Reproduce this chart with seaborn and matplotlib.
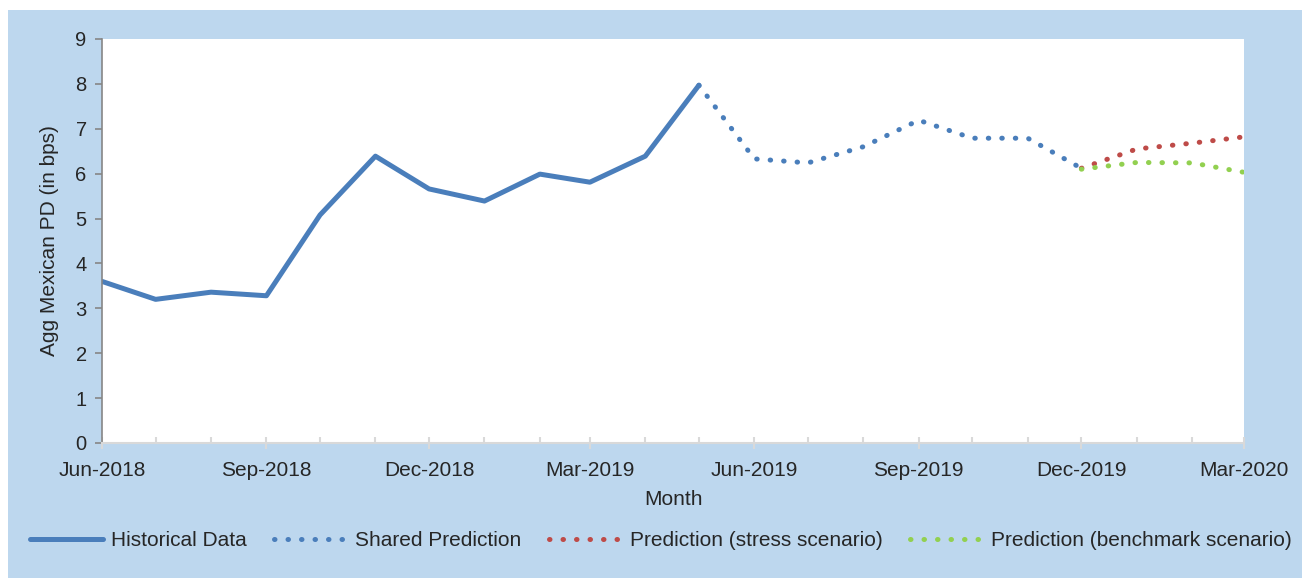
import pandas as pd
import matplotlib.pyplot as plt
import matplotlib.dates as mdates
from matplotlib.patches import Rectangle
import seaborn as sns

# monthly values (bps)
hist_months = pd.date_range("2018-06-01", "2019-05-01", freq="MS")
hist_pd = [3.6, 3.2, 3.36, 3.28, 5.08, 6.39, 5.66, 5.39, 5.99, 5.81, 6.39, 7.97]

shared_months = pd.date_range("2019-05-01", "2019-12-01", freq="MS")
shared_pd = [7.97, 6.33, 6.24, 6.6, 7.19, 6.79, 6.79, 6.12]

scen_months = pd.date_range("2019-12-01", "2020-03-01", freq="MS")
stress_pd = [6.12, 6.55, 6.68, 6.82]
bench_pd = [6.1, 6.25, 6.24, 6.03]

blue = "#4A7EBB"
red = "#BE4B48"
green = "#92D050"
bg = "#BDD7EE"

sns.set_style("white")
plt.rcParams["font.family"] = ["Liberation Sans", "DejaVu Sans"]

fig = plt.figure(figsize=(13.02, 5.78), dpi=100)
fig.patch.set_facecolor("white")
fig.patches.append(Rectangle((8 / 1302, 0), 1 - 8 / 1302, 1 - 10 / 578,
                             transform=fig.transFigure, facecolor=bg,
                             edgecolor="none", zorder=-10))

ax = fig.add_axes([102 / 1302, 1 - 443 / 578, (1244 - 102) / 1302, (443 - 39) / 578])
ax.set_facecolor("white")

dots = (0, (0.1, 2.6))
sns.lineplot(x=hist_months, y=hist_pd, ax=ax, color=blue, linewidth=3.6,
             label="Historical Data", solid_capstyle="round")
sns.lineplot(x=shared_months, y=shared_pd, ax=ax, color=blue, linewidth=3.6,
             linestyle=dots, dash_capstyle="round", label="Shared Prediction")
sns.lineplot(x=scen_months, y=stress_pd, ax=ax, color=red, linewidth=3.6,
             linestyle=dots, dash_capstyle="round", label="Prediction (stress scenario)")
sns.lineplot(x=scen_months, y=bench_pd, ax=ax, color=green, linewidth=3.6,
             linestyle=dots, dash_capstyle="round", label="Prediction (benchmark scenario)")

ax.set_xlim(pd.Timestamp("2018-06-01"), pd.Timestamp("2020-03-01"))
ax.set_ylim(0, 9)
ax.set_yticks(range(0, 10))

ax.xaxis.set_major_locator(mdates.MonthLocator(bymonth=[3, 6, 9, 12]))
ax.xaxis.set_major_formatter(mdates.DateFormatter("%b-%Y"))
ax.xaxis.set_minor_locator(mdates.MonthLocator())

for s in ["top", "right"]:
    ax.spines[s].set_visible(False)
ax.spines["left"].set_color("#868686")
ax.spines["left"].set_linewidth(1.2)
ax.spines["bottom"].set_color("#D9D9D9")
ax.spines["bottom"].set_linewidth(1.5)

ax.tick_params(axis="y", which="major", direction="out", length=5, width=1.2,
               color="#868686", labelsize=14.5, pad=6, left=True)
ax.tick_params(axis="x", which="major", direction="inout", length=8, width=1.5,
               color="#D9D9D9", labelsize=15, pad=9, bottom=True)
ax.tick_params(axis="x", which="minor", direction="in", length=4, width=1.5,
               color="#D9D9D9", bottom=True)
for lbl in ax.get_xticklabels() + ax.get_yticklabels():
    lbl.set_color("#262626")

ax.set_xlabel("Month", fontsize=15, color="#262626", labelpad=7)
ax.set_ylabel("Agg Mexican PD (in bps)", fontsize=15, color="#262626", labelpad=12)

handles, labels = ax.get_legend_handles_labels()
ax.get_legend().remove()
fig.legend(handles, labels, loc="center", bbox_to_anchor=(0.5 + 10 / 1302, 1 - 541 / 578),
           ncol=4, frameon=False, fontsize=15, handlelength=3.5,
           columnspacing=1.3, handletextpad=0.4, labelcolor="#262626")

fig.savefig("out.png", dpi=100)
